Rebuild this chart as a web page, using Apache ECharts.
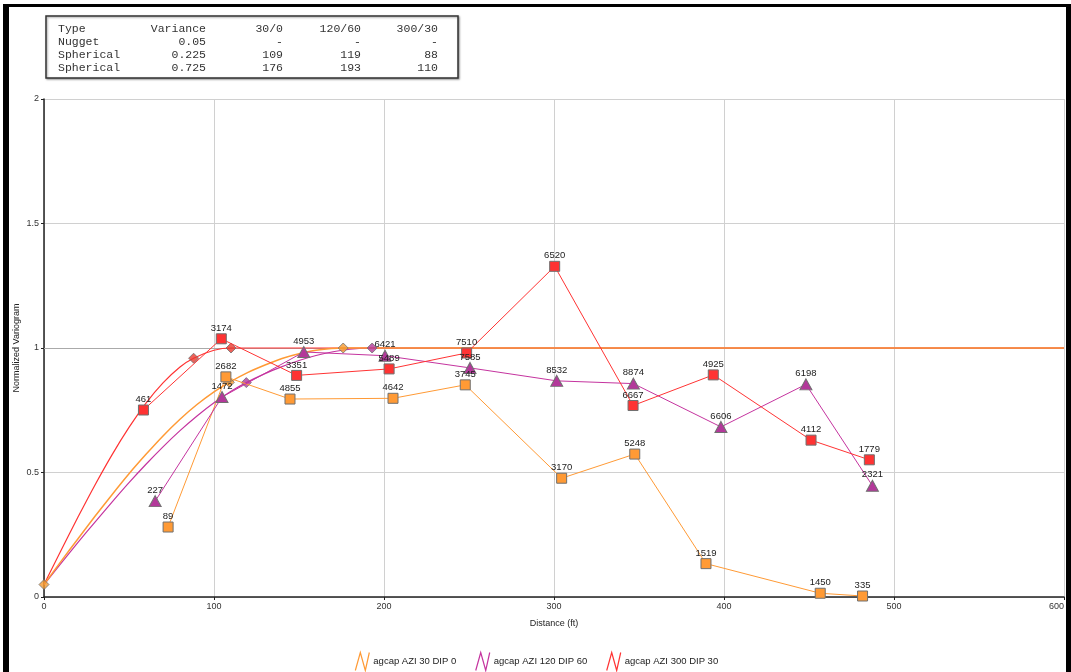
<!DOCTYPE html>
<html>
<head>
<meta charset="utf-8">
<script src="https://cdn.jsdelivr.net/npm/echarts@6/dist/echarts.min.js"></script>
<style>
html,body{margin:0;padding:0;background:#fff;}
#main{width:1071px;height:672px;}
</style>
</head>
<body>
<div id="main"></div>
<script>
// ---- Data ----
const seriesNames = ['agcap AZI 30 DIP 0', 'agcap AZI 120 DIP 60', 'agcap AZI 300 DIP 30'];

// experimental variogram points (distance, value, pair counts)
const az30Dist   = [73, 107, 144.7, 205.3, 247.8, 304.5, 347.5, 389.4, 456.6, 481.5];
const az30Val    = [0.281, 0.884, 0.795, 0.798, 0.852, 0.477, 0.574, 0.134, 0.015, 0.004];
const az30Pairs  = [89, 2682, 4855, 4642, 3745, 3170, 5248, 1519, 1450, 335];

const az120Dist  = [65.4, 104.7, 152.8, 200.6, 250.6, 301.6, 346.7, 398.2, 448.2, 487.3];
const az120Val   = [0.385, 0.803, 0.984, 0.969, 0.920, 0.868, 0.857, 0.683, 0.854, 0.447];
const az120Pairs = [227, 1472, 4953, 6421, 7585, 8532, 8874, 6606, 6198, 2321];

const az300Dist  = [58.5, 104.3, 148.6, 203, 248.6, 300.4, 346.5, 393.7, 451.2, 485.5];
const az300Val   = [0.751, 1.037, 0.890, 0.916, 0.980, 1.328, 0.769, 0.892, 0.630, 0.551];
const az300Pairs = [461, 3174, 3351, 5489, 7510, 6520, 6667, 4925, 4112, 1779];

// model curves
const model30Dist  = [0, 10, 20, 30, 40, 50, 60, 70, 80, 90, 100, 109, 120, 130, 140, 150, 160, 176, 200, 300, 400, 500, 600];
const model30Val   = [0.05, 0.143, 0.234, 0.324, 0.411, 0.495, 0.573, 0.647, 0.714, 0.773, 0.824, 0.862, 0.902, 0.932, 0.958, 0.977, 0.991, 1, 1, 1, 1, 1, 1];
const model120Dist = [0, 10, 20, 30, 40, 50, 60, 70, 80, 90, 100, 110, 119, 130, 140, 150, 160, 170, 180, 193, 220, 300, 600];
const model120Val  = [0.05, 0.135, 0.219, 0.301, 0.381, 0.459, 0.533, 0.603, 0.668, 0.727, 0.780, 0.826, 0.861, 0.897, 0.925, 0.950, 0.970, 0.985, 0.995, 1, 1, 1, 1];
const model300Dist = [0, 10, 20, 30, 40, 50, 60, 70, 80, 88, 100, 110, 130, 200, 600];
const model300Val  = [0.05, 0.187, 0.321, 0.450, 0.571, 0.681, 0.779, 0.860, 0.924, 0.959, 0.991, 1, 1, 1, 1];

// structure range markers (diamonds)
const range30Dist  = [0, 109, 176];
const range30Val   = [0.05, 0.862, 1];
const range120Dist = [119, 193];
const range120Val  = [0.861, 1];
const range300Dist = [88, 110];
const range300Val  = [0.959, 1];

// model table
const tableHeader = ['Type', 'Variance', '30/0', '120/60', '300/30'];
const tableRow1 = ['Nugget', '0.05', '-', '-', '-'];
const tableRow2 = ['Spherical', '0.225', '109', '119', '88'];
const tableRow3 = ['Spherical', '0.725', '176', '193', '110'];

// axis ticks
const xTicks = [0, 100, 200, 300, 400, 500, 600];
const yTicks = [0, 0.5, 1, 1.5, 2];

// ---- Build ----
const cOrange = '#ff9a35', cPurple = '#c5349f', cRed = '#ff3333';
const sans = 'Liberation Sans, Arial, sans-serif';
const zip = (a, b) => a.map((v, i) => [v, b[i]]);
const zip3 = (a, b, c) => a.map((v, i) => [v, b[i], c[i]]);

const chart = echarts.init(document.getElementById('main'), null, {renderer: 'canvas'});

function expSeries(name, dist, val, pairs, color, fill, symbol, size) {
  return {
    name: name, type: 'line', data: zip3(dist, val, pairs), z: 5,
    symbol: symbol, symbolSize: size, showAllSymbol: true,
    lineStyle: {color: color, width: 1},
    itemStyle: {color: fill, borderColor: '#707070', borderWidth: 1},
    label: {show: true, position: 'top', distance: 0, fontSize: 9.5, color: '#222',
            fontFamily: sans, formatter: p => String(p.value[2])},
    emphasis: {disabled: true}, animation: false
  };
}
function modelSeries(id, dist, val, color, z, w) {
  return {
    id: id, type: 'line', data: zip(dist, val), z: z, symbol: 'none',
    smooth: 0.3,
    lineStyle: {color: color, width: w},
    emphasis: {disabled: true}, animation: false, silent: true
  };
}
function rangeSeries(id, dist, val, fill) {
  return {
    id: id, type: 'scatter', data: zip(dist, val), z: 4, symbol: 'diamond', symbolSize: 10,
    itemStyle: {color: fill, borderColor: '#707070', borderWidth: 1},
    emphasis: {disabled: true}, animation: false, silent: true
  };
}

const mono = 'Liberation Mono, Courier New, monospace';
const colRight = [206, 283, 361, 438];
const rowY = [28.5, 41.5, 55, 68];
const tableRows = [tableHeader, tableRow1, tableRow2, tableRow3];
const tableGraphics = [];
tableRows.forEach((row, r) => {
  row.forEach((cell, c) => {
    tableGraphics.push({
      type: 'text', z: 101,
      x: c === 0 ? 58 : colRight[c - 1], y: rowY[r],
      style: {text: cell, font: '11.5px ' + mono, fill: '#333',
              textAlign: c === 0 ? 'left' : 'right', textVerticalAlign: 'middle'}
    });
  });
});

const legendIcon = 'path://M0,18 L5,0 L10,18 L14,0';

chart.setOption({
  backgroundColor: '#fff',
  animation: false,
  grid: {left: 44, right: 7, top: 99, bottom: 75, containLabel: false},
  xAxis: {
    type: 'value', min: 0, max: 600, interval: 100,
    name: 'Distance (ft)', nameLocation: 'middle', nameGap: 22,
    nameTextStyle: {fontSize: 9, color: '#222', fontFamily: sans},
    axisLine: {show: true, lineStyle: {color: '#222', width: 1.5}},
    axisTick: {show: true, length: 3, lineStyle: {color: '#222'}},
    axisLabel: {fontSize: 9, color: '#333', margin: 5, fontFamily: sans, alignMaxLabel: 'right',
                formatter: v => xTicks.includes(v) ? String(v) : ''},
    splitLine: {show: true, lineStyle: {color: '#d0d0d0', width: 1}}
  },
  yAxis: {
    type: 'value', min: 0, max: 2, interval: 0.5,
    name: 'Normalized Variogram', nameLocation: 'middle', nameGap: 23, nameRotate: 90,
    nameMoveOverlap: false,
    nameTextStyle: {fontSize: 9, color: '#222', fontFamily: sans},
    axisLine: {show: true, lineStyle: {color: '#222', width: 1.5}},
    axisTick: {show: true, length: 3, lineStyle: {color: '#222'}},
    axisLabel: {fontSize: 9, color: '#333', margin: 5, fontFamily: sans,
                formatter: v => yTicks.includes(v) ? String(v) : ''},
    splitLine: {show: true, lineStyle: {color: '#d0d0d0', width: 1}}
  },
  legend: {
    top: 645, left: 'center', itemWidth: 14, itemHeight: 18, itemGap: 17,
    textStyle: {fontSize: 9.5, color: '#222', fontFamily: sans, padding: [0, 0, 0, -1]},
    data: [
      {name: seriesNames[0], icon: legendIcon, itemStyle: {color: 'none', borderColor: cOrange, borderWidth: 1.2}},
      {name: seriesNames[1], icon: legendIcon, itemStyle: {color: 'none', borderColor: cPurple, borderWidth: 1.2}},
      {name: seriesNames[2], icon: legendIcon, itemStyle: {color: 'none', borderColor: cRed, borderWidth: 1.2}}
    ],
    selectedMode: false
  },
  graphic: [
    {type: 'rect', shape: {x: 3, y: 4, width: 6, height: 672}, style: {fill: '#000'}, z: 100},
    {type: 'rect', shape: {x: 3, y: 4, width: 1068, height: 3}, style: {fill: '#000'}, z: 100},
    {type: 'rect', shape: {x: 1066, y: 4, width: 5, height: 672}, style: {fill: '#000'}, z: 100},
    {type: 'rect', shape: {x: 46, y: 16, width: 412, height: 62},
     style: {fill: '#fff', stroke: '#333', lineWidth: 1.5, shadowBlur: 2, shadowColor: 'rgba(0,0,0,0.35)', shadowOffsetX: 1, shadowOffsetY: 1}, z: 100}
  ].concat(tableGraphics),
  series: [
    {
      id: 'refline', type: 'line', data: [], silent: true, z: 1,
      markLine: {silent: true, symbol: 'none', label: {show: false}, z: 1,
                 lineStyle: {color: '#aaa', width: 1, type: 'solid'}, data: [{yAxis: 1}]}
    },
    modelSeries('m300', model300Dist, model300Val, cRed, 2, 1.2),
    modelSeries('m120', model120Dist, model120Val, cPurple, 2, 1.2),
    modelSeries('m30', model30Dist, model30Val, cOrange, 3, 1.5),
    rangeSeries('r300', range300Dist, range300Val, '#e8392f'),
    rangeSeries('r120', range120Dist, range120Val, '#b3389a'),
    rangeSeries('r30', range30Dist, range30Val, '#f59a2f'),
    expSeries(seriesNames[0], az30Dist, az30Val, az30Pairs, cOrange, '#ff9a35', 'rect', 10),
    expSeries(seriesNames[1], az120Dist, az120Val, az120Pairs, cPurple, '#b3389a', 'triangle', [12, 11]),
    expSeries(seriesNames[2], az300Dist, az300Val, az300Pairs, cRed, '#ff3333', 'rect', 10)
  ]
});
</script>
</body>
</html>
